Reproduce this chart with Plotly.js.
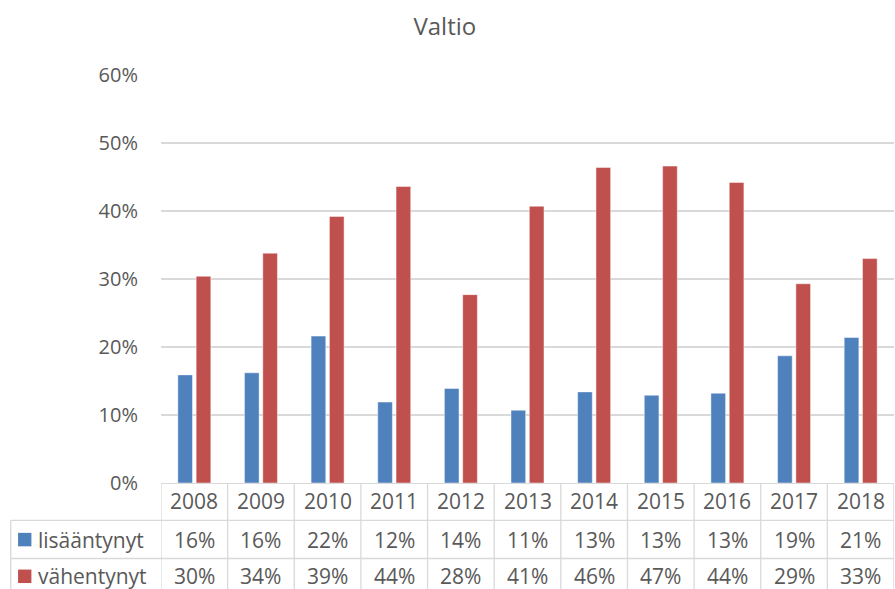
<!DOCTYPE html>
<html>
<head>
<meta charset="utf-8">
<script src="https://cdn.plot.ly/plotly-3.0.1.min.js"></script>
<style>html,body{margin:0;padding:0;background:#fff;}#chart{width:895px;height:589px;}</style>
</head>
<body>
<div id="chart"></div>
<script>
const years = ['2008','2009','2010','2011','2012','2013','2014','2015','2016','2017','2018'];
const lisaantynyt = [0.159, 0.162, 0.216, 0.119, 0.139, 0.107, 0.134, 0.129, 0.132, 0.187, 0.214];
const vahentynyt = [0.304, 0.338, 0.392, 0.436, 0.277, 0.407, 0.464, 0.466, 0.442, 0.293, 0.330];
const seriesNames = ['lisääntynyt', 'vähentynyt'];
const seriesColors = ['#4F81BD', '#C0504D'];
const yTicks = [0, 0.1, 0.2, 0.3, 0.4, 0.5, 0.6];

const textColor = '#595959';
const lineColor = '#D9D9D9';
const fontFam = '"Open Sans", "Noto Sans", sans-serif';
const fs = 20;
const tfs = 21;

const fmt = v => Math.round(v * 100) + '%';

const traces = [lisaantynyt, vahentynyt].map((vals, k) => ({
  type: 'bar',
  x: years,
  y: vals,
  name: seriesNames[k],
  marker: {color: seriesColors[k], line: {color: 'rgba(255,255,255,0.45)', width: 1}},
  hoverinfo: 'x+y'
}));

// table geometry (paper coords, relative to plot area)
const rowYear = -0.045, row1 = -0.1387, row2 = -0.2287;
const line1 = -0.0914, line2 = -0.185, tableBottom = -0.27;
const leftEdge = -0.205;

const shapes = [];
const annotations = [];
// column dividers
for (let i = 0; i <= years.length; i++) {
  shapes.push({type: 'line', xref: 'x', yref: 'paper', x0: i - 0.5, x1: i - 0.5, y0: 0, y1: tableBottom,
    line: {color: lineColor, width: 1.3}});
}
// horizontal row lines
[line1, line2].forEach(yy => shapes.push({type: 'line', xref: 'paper', yref: 'paper', x0: leftEdge, x1: 1, y0: yy, y1: yy,
  line: {color: lineColor, width: 1.3}}));
// left border of legend rows
shapes.push({type: 'line', xref: 'paper', yref: 'paper', x0: leftEdge, x1: leftEdge, y0: line1, y1: tableBottom,
  line: {color: lineColor, width: 1.3}});

// legend keys
[row1, row2].forEach((ry, k) => {
  shapes.push({type: 'rect', xref: 'paper', yref: 'paper', x0: -0.1950, x1: -0.1768,
    y0: ry + 0.0165, y1: ry - 0.0165, fillcolor: seriesColors[k], line: {width: 0}});
  annotations.push({xref: 'paper', yref: 'paper', x: -0.170, y: ry, xanchor: 'left', yanchor: 'middle',
    text: seriesNames[k], showarrow: false, font: {family: fontFam, size: tfs, color: textColor}});
});

years.forEach((yr, i) => {
  annotations.push({xref: 'x', yref: 'paper', x: i, y: rowYear, xanchor: 'center', yanchor: 'middle', text: yr, showarrow: false,
    font: {family: fontFam, size: tfs, color: textColor}});
  annotations.push({xref: 'x', yref: 'paper', x: i, y: row1, xanchor: 'center', yanchor: 'middle', text: fmt(lisaantynyt[i]), showarrow: false,
    font: {family: fontFam, size: tfs, color: textColor}});
  annotations.push({xref: 'x', yref: 'paper', x: i, y: row2, xanchor: 'center', yanchor: 'middle', text: fmt(vahentynyt[i]), showarrow: false,
    font: {family: fontFam, size: tfs, color: textColor}});
});

const layout = {
  width: 895, height: 589,
  margin: {l: 161, r: 1, t: 75, b: 106, pad: 0},
  paper_bgcolor: '#fff', plot_bgcolor: '#fff',
  title: {text: 'Valtio', x: 0.497, xref: 'container', xanchor: 'center', y: 0.955, yref: 'container', yanchor: 'middle',
    font: {family: fontFam, size: 24, color: textColor}},
  showlegend: false,
  barmode: 'group',
  bargap: 0.45,
  bargroupgap: 0.2,
  font: {family: fontFam, size: fs, color: textColor},
  xaxis: {type: 'category', range: [-0.5, years.length - 0.5], showticklabels: false, showgrid: false,
    showline: true, linecolor: lineColor, linewidth: 1.3, ticks: '', zeroline: false, fixedrange: true},
  yaxis: {range: [0, 0.6], tickvals: yTicks, tickformat: '.0%', showgrid: true, gridcolor: lineColor, gridwidth: 1.3,
    zeroline: false, showline: false, ticks: '', ticklabelstandoff: 22,
    tickfont: {family: fontFam, size: fs, color: textColor}, fixedrange: true},
  shapes: shapes,
  annotations: annotations
};

Plotly.newPlot('chart', traces, layout, {staticPlot: true});
</script>
</body>
</html>
